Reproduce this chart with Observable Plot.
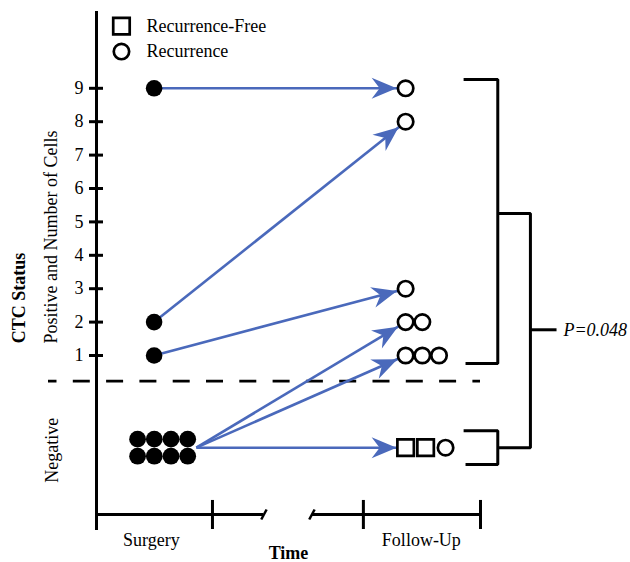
<!DOCTYPE html>
<html>
<head>
<meta charset="utf-8">
<script src="https://cdn.jsdelivr.net/npm/d3@7"></script>
<script src="https://cdn.jsdelivr.net/npm/@observablehq/plot@0.6"></script>
<style>
  html, body { margin: 0; padding: 0; background: #fff; }
  svg { display: block; }
  svg text { font-family: 'Liberation Serif', 'Times New Roman', serif; }
</style>
</head>
<body>
<div id="chart"></div>
<script>
// ---------- data ----------
const yTicks = [1, 2, 3, 4, 5, 6, 7, 8, 9];
const surgeryPositive = [9, 2, 1];            // CTC counts at surgery (positive patients)
const surgeryNegativeCount = 8;               // CTC-negative patients at surgery
const followPositive = [                      // CTC counts at follow-up (all recurrence)
  {value: 9, count: 1},
  {value: 8, count: 1},
  {value: 3, count: 1},
  {value: 2, count: 2},
  {value: 1, count: 3}
];
const followNegative = ["Recurrence-Free", "Recurrence-Free", "Recurrence"];
const transitions = [
  {from: 9, to: 9},
  {from: 2, to: 8},
  {from: 1, to: 3},
  {from: "Negative", to: 2},
  {from: "Negative", to: 1},
  {from: "Negative", to: "Negative"}
];
const legendItems = ["Recurrence-Free", "Recurrence"];
const timeLabels = ["Surgery", "Follow-Up"];
const yTitle = "CTC Status";
const positiveLabel = "Positive and Number of Cells";
const negativeLabel = "Negative";
const xTitle = "Time";
const pLabel = "P=0.048";

// ---------- layout (data units of the scales) ----------
const L = {
  surgeryX: 1.5, followX: 8.05, colStep: 0.435, negColStep: 0.52,
  negY: -1.76, negRowHalf: 0.255, negGroupX0: 1.07, negArrowX: 2.6,
  cutoffY: 0.23, axisTop: 11.3, axisBottom: -4.24, timeAxisY: -3.76,
  timeTicks: [3.02, 6.95, 10], tickTop: -3.34, tickBottom: -4.21,
  breakL: 4.35, breakR: 5.62
};
const BLUE = "#4a69bb";
const FONT = "'Liberation Serif', 'Times New Roman', serif";
const R_CIRCLE = 7.7, R_SQUARE = 9.3;

// ---------- derived tables ----------
const surgeryDots = surgeryPositive.map(v => ({x: L.surgeryX, y: v}));
const negDots = d3.range(surgeryNegativeCount).map(i => ({
  x: L.negGroupX0 + (i % 4) * L.colStep,
  y: L.negY + (i < 4 ? L.negRowHalf : -L.negRowHalf)
}));
const followDots = followPositive.flatMap(d => d3.range(d.count).map(k => ({x: L.followX + k * L.colStep, y: d.value})));
const followNegDots = followNegative.map((s, k) => ({x: L.followX + k * L.negColStep, y: L.negY, status: s}));
const links = transitions.map(t => ({
  x1: t.from === "Negative" ? L.negArrowX : L.surgeryX,
  y1: t.from === "Negative" ? L.negY : t.from,
  x2: L.followX,
  y2: t.to === "Negative" ? L.negY : t.to
}));
const brackets = [
  {g: "a", pts: [[9.56, 9.26], [10.45, 9.26], [10.45, 0.76], [9.61, 0.76]]},
  {g: "b", pts: [[10.45, 5.25], [11.3, 5.25], [11.3, L.negY], [10.45, L.negY]]},
  {g: "c", pts: [[9.56, -1.25], [10.45, -1.25], [10.45, -2.26], [9.61, -2.26]]},
  {g: "d", pts: [[11.3, 1.77], [11.98, 1.77]]}
].flatMap(b => b.pts.map(([x, y]) => ({g: b.g, x, y})));
const timeAxisSegs = [
  {x1: 0, x2: L.breakL}, {x1: L.breakR, x2: 10}
];
const slashes = [
  {x1: L.breakL - 0.06, x2: L.breakL + 0.08},
  {x1: L.breakR - 0.08, x2: L.breakR + 0.06}
];
const legendRows = legendItems.map((d, i) => ({label: d, y: i === 0 ? 10.86 : 10.1}));

// ---------- custom filled arrow head ----------
function stealth(color) {
  const ns = "http://www.w3.org/2000/svg";
  const m = document.createElementNS(ns, "marker");
  m.setAttribute("viewBox", "-40 -15 45 30");
  m.setAttribute("markerWidth", "45");
  m.setAttribute("markerHeight", "30");
  m.setAttribute("markerUnits", "userSpaceOnUse");
  m.setAttribute("orient", "auto");
  m.setAttribute("refX", "0");
  m.setAttribute("refY", "0");
  const p = document.createElementNS(ns, "path");
  p.setAttribute("d", "M-9,0L-34,-10.5L-26,0L-34,10.5Z");
  p.setAttribute("fill", color);
  p.setAttribute("stroke", "none");
  m.appendChild(p);
  return m;
}

const txt = {fontFamily: FONT, fontSize: 18, fill: "#000"};
const openStyle = {fill: "#fff", stroke: "#000", strokeWidth: 2.7};

const chart = Plot.plot({
  width: 630,
  height: 562,
  marginLeft: 96,
  marginRight: 150,
  marginTop: 21,
  marginBottom: 40,
  x: {domain: [0, 10], axis: null},
  y: {domain: [-4, 11]},
  style: {fontFamily: FONT, fontSize: "18px", background: "#fff", color: "#000", overflow: "visible"},
  marks: [
    // y axis
    Plot.ruleX([0], {y1: L.axisTop, y2: L.axisBottom, strokeWidth: 3, stroke: "#000"}),
    Plot.axisY(yTicks, {tickSize: 14, dx: 7, tickPadding: 6, strokeWidth: 3, fontSize: 18, fontFamily: FONT, label: null}),
    // cutoff dashed line
    Plot.ruleY([L.cutoffY], {x1: -1.25, x2: 10, stroke: "#000", strokeWidth: 2.7, strokeDasharray: "17,16.3", strokeDashoffset: 8.5}),
    // time axis
    Plot.ruleY(timeAxisSegs, {y: L.timeAxisY, x1: "x1", x2: "x2", strokeWidth: 3, stroke: "#000"}),
    Plot.ruleX(L.timeTicks, {y1: L.tickTop, y2: L.tickBottom, strokeWidth: 3, stroke: "#000"}),
    Plot.link(slashes, {x1: "x1", x2: "x2", y1: -3.91, y2: -3.61, strokeWidth: 2.5, stroke: "#000"}),
    // arrows
    Plot.link(links, {x1: "x1", y1: "y1", x2: "x2", y2: "y2", stroke: BLUE, strokeWidth: 2.6, markerEnd: stealth}),
    // surgery dots
    Plot.dot(surgeryDots, {x: "x", y: "y", r: 8.3, fill: "#000"}),
    Plot.dot(negDots, {x: "x", y: "y", r: 8.4, fill: "#000"}),
    // follow-up dots
    Plot.dot(followDots, {x: "x", y: "y", r: R_CIRCLE, ...openStyle}),
    Plot.dot(followNegDots.filter(d => d.status === "Recurrence"), {x: "x", y: "y", r: R_CIRCLE, symbol: "circle", ...openStyle}),
    Plot.dot(followNegDots.filter(d => d.status !== "Recurrence"), {x: "x", y: "y", r: R_SQUARE, symbol: "square", ...openStyle}),
    // brackets
    Plot.line(brackets, {x: "x", y: "y", z: "g", stroke: "#000", strokeWidth: 3, strokeLinejoin: "miter", strokeLinecap: "butt"}),
    Plot.text([pLabel], {x: 12.16, y: 1.77, textAnchor: "start", fontStyle: "italic", ...txt}),
    // legend
    Plot.dot(legendRows.filter(d => d.label !== "Recurrence"), {x: 0.65, y: "y", r: R_SQUARE, symbol: "square", ...openStyle}),
    Plot.dot(legendRows.filter(d => d.label === "Recurrence"), {x: 0.65, y: "y", r: R_CIRCLE, symbol: "circle", ...openStyle}),
    Plot.text(legendRows, {x: 1.3, y: "y", text: "label", textAnchor: "start", ...txt}),
    // axis titles
    Plot.text([yTitle], {x: -2.0, y: 2.72, rotate: -90, fontWeight: "bold", ...txt}),
    Plot.text([positiveLabel], {x: -1.18, y: 4.55, rotate: -90, ...txt}),
    Plot.text([negativeLabel], {x: -1.15, y: -1.84, rotate: -90, ...txt}),
    Plot.text(timeLabels, {x: (d, i) => i === 0 ? 1.43 : 8.46, y: -4.54, text: d => d, ...txt}),
    Plot.text([xTitle], {x: 5.0, y: -4.93, fontWeight: "bold", ...txt})
  ]
});
document.getElementById("chart").appendChild(chart);
</script>
</body>
</html>
